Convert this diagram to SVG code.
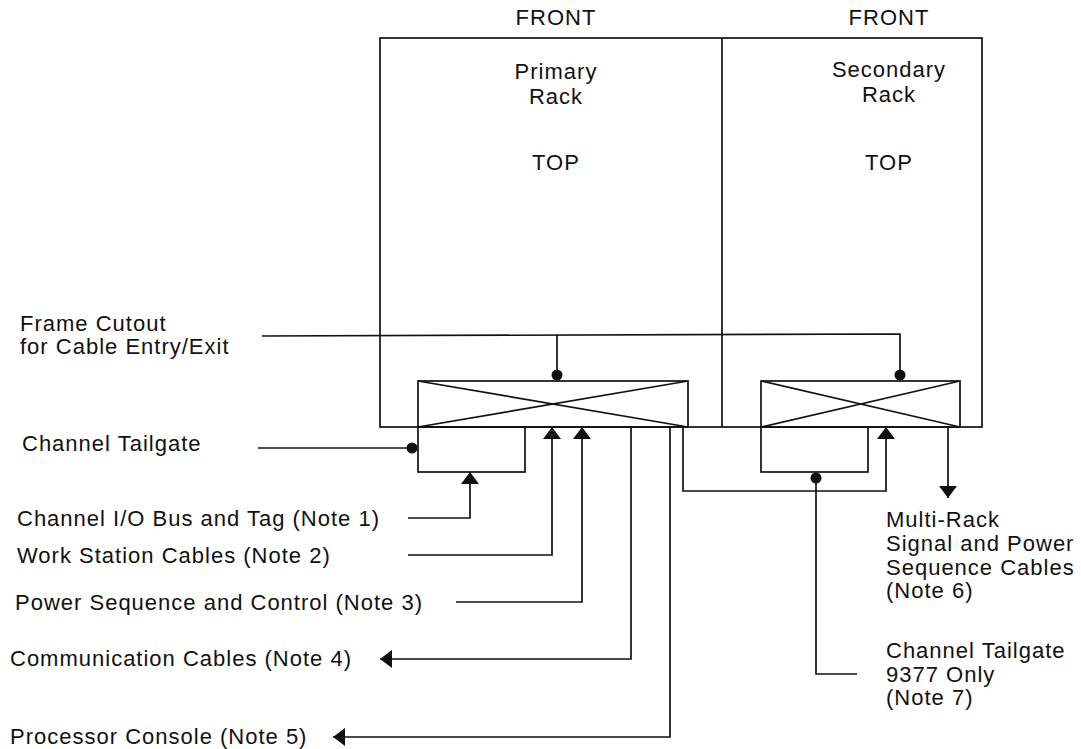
<svg xmlns="http://www.w3.org/2000/svg" width="1081" height="749" viewBox="0 0 1081 749">
<style>
text{font-family:"Liberation Sans",Arial,Helvetica,sans-serif;font-size:22px;letter-spacing:1px;fill:#111}
.c{text-anchor:middle}
.ln{fill:none;stroke:#111;stroke-width:1.7}
.dot{fill:#111}
.ah{fill:#111}
</style>
<defs>
<marker id="arr" viewBox="0 0 12 18" refX="12" refY="9" markerWidth="12" markerHeight="18" markerUnits="userSpaceOnUse" orient="auto">
<path d="M0,0 L12,9 L0,18 Z" class="ah"/>
</marker>
</defs>
<rect width="1081" height="749" fill="#fff"/>
<g id="racks">
<rect class="ln" x="380" y="38" width="602" height="389"/>
<line class="ln" x1="722" y1="38" x2="722" y2="427"/>
</g>
<g id="primary-rack">
<text class="c" x="556" y="25">FRONT</text>
<text class="c" x="556" y="79">Primary</text>
<text class="c" x="556" y="104">Rack</text>
<text class="c" x="556" y="170">TOP</text>
</g>
<g id="secondary-rack">
<text class="c" x="889" y="25">FRONT</text>
<text class="c" x="889" y="77">Secondary</text>
<text class="c" x="889" y="102">Rack</text>
<text class="c" x="889" y="170">TOP</text>
</g>
<g id="primary-cutout">
<rect class="ln" x="418" y="381" width="270" height="46"/>
<path class="ln" d="M418,381 L688,427 M418,427 L688,381"/>
<rect class="ln" x="418" y="427" width="107" height="45"/>
</g>
<g id="secondary-cutout">
<rect class="ln" x="761" y="381" width="199" height="46"/>
<path class="ln" d="M761,381 L960,427 M761,427 L960,381"/>
<rect class="ln" x="761" y="427" width="107" height="45"/>
</g>
<g id="labels-left">
<text x="20" y="331">Frame Cutout</text>
<text x="20" y="354">for Cable Entry/Exit</text>
<text x="22" y="451">Channel Tailgate</text>
<text x="17" y="526">Channel I/O Bus and Tag (Note 1)</text>
<text x="17" y="563">Work Station Cables (Note 2)</text>
<text x="15" y="610">Power Sequence and Control (Note 3)</text>
<text x="10" y="666">Communication Cables (Note 4)</text>
<text x="10" y="744">Processor Console (Note 5)</text>
</g>
<g id="labels-right">
<text x="886" y="527">Multi-Rack</text>
<text x="886" y="551">Signal and Power</text>
<text x="886" y="575">Sequence Cables</text>
<text x="886" y="598">(Note 6)</text>
<text x="886" y="658">Channel Tailgate</text>
<text x="886" y="682">9377 Only</text>
<text x="886" y="705">(Note 7)</text>
</g>
<g id="connectors">
<path class="ln" d="M262,336 L900,334 L900,375"/>
<path class="ln" d="M557,335 L557,375"/>
<circle class="dot" cx="557" cy="375" r="5.5"/>
<circle class="dot" cx="900" cy="375" r="5.5"/>
<path class="ln" d="M258,448 L412,448"/>
<circle class="dot" cx="412" cy="448" r="5.5"/>
<path class="ln" d="M408,518 L470,518 L470,472" marker-end="url(#arr)"/>
<path class="ln" d="M408,555 L552,555 L552,427" marker-end="url(#arr)"/>
<path class="ln" d="M456,602 L582,602 L582,427" marker-end="url(#arr)"/>
<path class="ln" d="M631,427 L631,659 L380,659" marker-end="url(#arr)"/>
<path class="ln" d="M670,427 L670,737 L333,737" marker-end="url(#arr)"/>
<path class="ln" d="M683,427 L683,491 L886,491 L886,427" marker-end="url(#arr)"/>
<path class="ln" d="M948,427 L948,498" marker-end="url(#arr)"/>
<circle class="dot" cx="816" cy="478" r="5.5"/>
<path class="ln" d="M816,478 L816,674 L857,674"/>
</g>
</svg>
